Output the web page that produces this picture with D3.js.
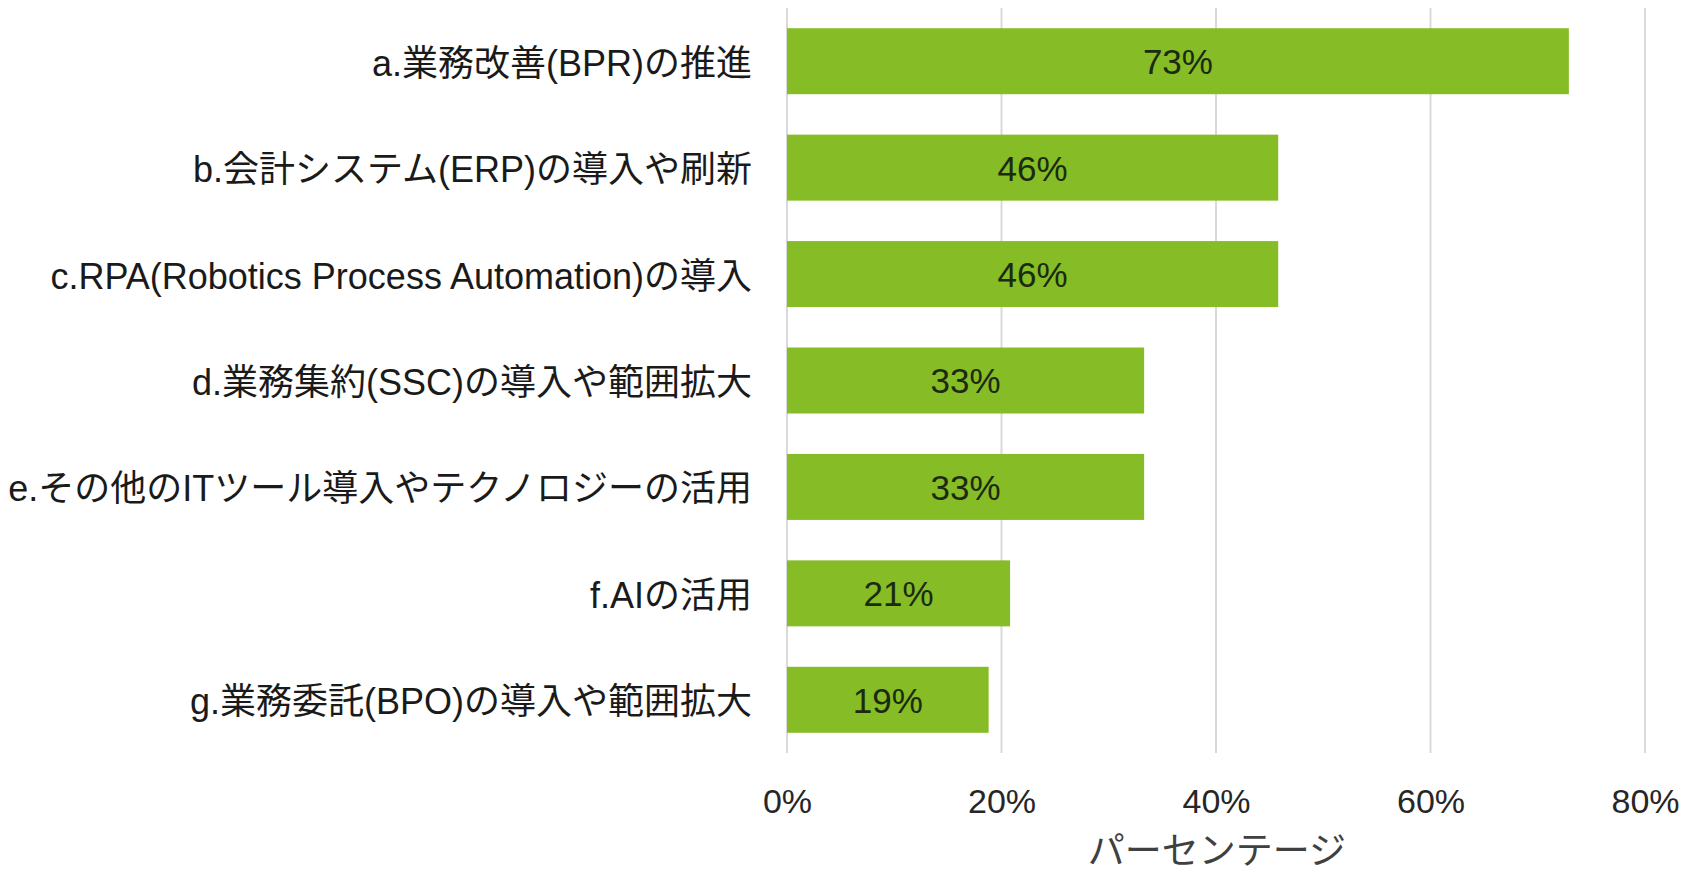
<!DOCTYPE html>
<html>
<head>
<meta charset="utf-8">
<script src="https://cdn.jsdelivr.net/npm/d3@7"></script>
<style>
  body { margin: 0; background: #fff; }
  text { font-family: "Liberation Sans", Arial, "Noto Sans CJK JP", sans-serif; }
</style>
</head>
<body>
<svg id="chart"></svg>
<script>
// answers (share of 48 respondents, %)
var categories = [
  'a.業務改善(BPR)の推進',
  'b.会計システム(ERP)の導入や刷新',
  'c.RPA(Robotics Process Automation)の導入',
  'd.業務集約(SSC)の導入や範囲拡大',
  'e.その他のITツール導入やテクノロジーの活用',
  'f.AIの活用',
  'g.業務委託(BPO)の導入や範囲拡大'
]
var values = [72.9, 45.8, 45.8, 33.3, 33.3, 20.8, 18.8]
var xTicks = [0, 20, 40, 60, 80]
var xTitle = 'パーセンテージ'

var width = 1693, height = 877
var plot = {left: 787, right: 1645, top: 8, bottom: 753}

var svg = d3.select('#chart')
  .attr('width', width)
  .attr('height', height)

var x = d3.scaleLinear()
  .domain([0, 80])
  .range([plot.left, plot.right])

var y = d3.scaleBand()
  .domain(categories)
  .range([plot.top, plot.bottom])
  .paddingInner(0.38)
  .paddingOuter(0.19)

// gridlines
svg.append('g')
  .selectAll('line')
  .data(xTicks)
  .enter()
  .append('line')
    .attr('x1', d => x(d))
    .attr('x2', d => x(d))
    .attr('y1', plot.top)
    .attr('y2', plot.bottom)
    .attr('stroke', '#d9d9d9')
    .attr('stroke-width', 2)

// bars
svg.append('g')
  .selectAll('rect')
  .data(values)
  .enter()
  .append('rect')
    .attr('x', x(0))
    .attr('y', (d, i) => y(categories[i]))
    .attr('width', d => x(d) - x(0))
    .attr('height', y.bandwidth())
    .attr('fill', '#86bc25')

// value labels in the middle of each bar
svg.append('g')
  .selectAll('text')
  .data(values)
  .enter()
  .append('text')
    .attr('x', d => (x(0) + x(d)) / 2)
    .attr('y', (d, i) => y(categories[i]) + y.bandwidth() / 2)
    .attr('dy', '0.37em')
    .attr('text-anchor', 'middle')
    .style('font-size', '35px')
    .style('fill', '#1b2a10')
    .text(d => Math.round(d) + '%')

// category axis (labels only)
var yAxis = svg.append('g')
  .attr('transform', 'translate(' + (plot.left - 35) + ',3)')
  .call(d3.axisLeft(y).tickSize(0).tickPadding(0))
yAxis.select('.domain').remove()
yAxis.selectAll('text')
  .style('font-size', '36px')
  .style('fill', '#1a1a1a')
  .style('font-family', '"Liberation Sans", Arial, "Noto Sans CJK JP", sans-serif')

// value axis (labels only)
var xAxis = svg.append('g')
  .attr('transform', 'translate(0,' + plot.bottom + ')')
  .call(d3.axisBottom(x).tickValues(xTicks).tickFormat(d => d + '%').tickSize(0).tickPadding(36))
xAxis.select('.domain').remove()
xAxis.selectAll('text')
  .style('font-size', '34px')
  .style('fill', '#262626')
  .style('font-family', '"Liberation Sans", Arial, sans-serif')

svg.append('text')
  .attr('x', 1217)
  .attr('y', 851)
  .attr('dy', '0.35em')
  .attr('text-anchor', 'middle')
  .style('font-size', '37px')
  .style('fill', '#404040')
  .text(xTitle)
</script>
</body>
</html>
